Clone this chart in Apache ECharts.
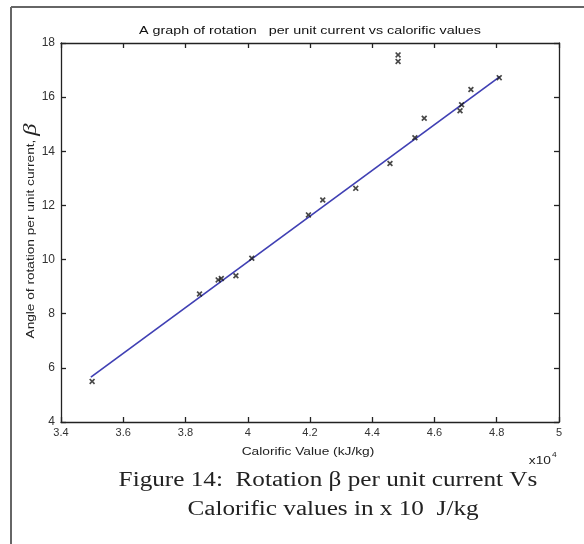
<!DOCTYPE html>
<html>
<head>
<meta charset="utf-8">
<script src="https://cdn.jsdelivr.net/npm/echarts@6/dist/echarts.min.js"></script>
<style>html,body{margin:0;padding:0;background:#fff}#c{width:584px;height:544px}</style>
</head>
<body>
<div id="c"></div>
<script>
// Calorific value (x10^4 kJ/kg) and angle of rotation per unit current
var calorific = [3.500, 3.845, 3.905, 3.915, 3.962, 4.013, 4.195, 4.241, 4.347, 4.457, 4.537, 4.567, 4.682, 4.687, 4.717, 4.808, 4.483, 4.483];
var beta      = [5.50, 8.73, 9.25, 9.30, 9.40, 10.05, 11.65, 12.20, 12.63, 13.55, 14.50, 15.22, 15.50, 15.72, 16.28, 16.72, 17.56, 17.32];
// fitted line end points
var fitX = [3.496, 4.810];
var fitY = [5.66, 16.76];
var xTicks = [3.4, 3.6, 3.8, 4, 4.2, 4.4, 4.6, 4.8, 5];
var yTicks = [4, 6, 8, 10, 12, 14, 16, 18];

var titleText = 'A graph of rotation   per unit current vs calorific values';
var xName = 'Calorific Value (kJ/kg)';
var yName = 'Angle of rotation per unit current, ';
var caption1 = 'Figure 14:  Rotation \u03b2 per unit current Vs';
var caption2 = 'Calorific values in x 10  J/kg';

var chart = echarts.init(document.getElementById('c'), null, {renderer: 'canvas'});
var sans = 'Liberation Sans, Arial, sans-serif';
var serif = 'Liberation Serif, Times New Roman, serif';
var axisCommon = {
  axisLine: {show: true, lineStyle: {color: '#222', width: 1.3}},
  axisTick: {show: true, inside: true, length: 5, lineStyle: {color: '#222', width: 1.3}},
  splitLine: {show: false}
};
var xMin = xTicks[0], xMax = xTicks[xTicks.length - 1];
var yMin = yTicks[0], yMax = yTicks[yTicks.length - 1];
var xs = [], ys = [];
[0, 1].forEach(function (i) {
  xs.push(Object.assign({
    type: 'value', min: xMin, max: xMax, interval: 0.2,
    position: i === 0 ? 'bottom' : 'top',
    axisLabel: {show: i === 0, color: '#333', fontFamily: sans, fontSize: 11, margin: 5}
  }, axisCommon));
  ys.push(Object.assign({
    type: 'value', min: yMin, max: yMax, interval: 2,
    position: i === 0 ? 'left' : 'right',
    axisLabel: {show: i === 0, color: '#333', fontFamily: sans, fontSize: 12, margin: 6}
  }, axisCommon));
});

var pts = calorific.map(function (v, i) { return [v, beta[i]]; });
var linePts = fitX.map(function (v, i) { return [v, fitY[i]]; });

chart.setOption({
  animation: false,
  backgroundColor: '#fff',
  grid: {left: 61, right: 25, top: 43, bottom: 122, containLabel: false},
  xAxis: xs,
  yAxis: ys,
  series: [
    {
      type: 'line', data: linePts, showSymbol: false, symbol: 'none',
      lineStyle: {color: '#4040b4', width: 1.7}, z: 2
    },
    {
      type: 'scatter', data: pts,
      symbol: 'path://M0,2L2,0L5,3L8,0L10,2L7,5L10,8L8,10L5,7L2,10L0,8L3,5Z',
      symbolSize: 6,
      itemStyle: {color: '#1a1a1a'}, z: 3
    }
  ],
  graphic: [
    {type: 'line', shape: {x1: 11, y1: 7, x2: 584, y2: 7}, style: {stroke: '#666', lineWidth: 2}},
    {type: 'line', shape: {x1: 11, y1: 7, x2: 11, y2: 544}, style: {stroke: '#666', lineWidth: 2}},
    {type: 'text', x: 310, y: 31, scaleX: 1.3, style: {text: titleText, font: '11px ' + sans, fill: '#111', textAlign: 'center', textVerticalAlign: 'middle'}},
    {type: 'text', x: 308, y: 452, scaleX: 1.25, style: {text: xName, font: '11px ' + sans, fill: '#222', textAlign: 'center', textVerticalAlign: 'middle'}},
    {type: 'text', x: 551, y: 461, scaleX: 1.25, style: {text: 'x10', font: '11px ' + sans, fill: '#222', textAlign: 'right', textVerticalAlign: 'middle'}},
    {type: 'text', x: 552, y: 455, scaleX: 1.2, style: {text: '4', font: '7px ' + sans, fill: '#222', textAlign: 'left', textVerticalAlign: 'middle'}},
    {type: 'text', x: 31, y: 231, rotation: Math.PI / 2, scaleX: 1.3, style: {
      rich: {a: {font: '10.5px ' + sans, fill: '#222'}, b: {font: 'italic 19px ' + serif, fill: '#222'}},
      text: '{a|' + yName + '}{b|\u03b2}', textAlign: 'center', textVerticalAlign: 'middle'}},
    {type: 'text', x: 328, y: 481, scaleX: 1.26, style: {text: caption1, font: '20px ' + serif, fill: '#222', textAlign: 'center', textVerticalAlign: 'middle'}},
    {type: 'text', x: 333, y: 510, scaleX: 1.26, style: {text: caption2, font: '20px ' + serif, fill: '#222', textAlign: 'center', textVerticalAlign: 'middle'}}
  ]
});
</script>
</body>
</html>
